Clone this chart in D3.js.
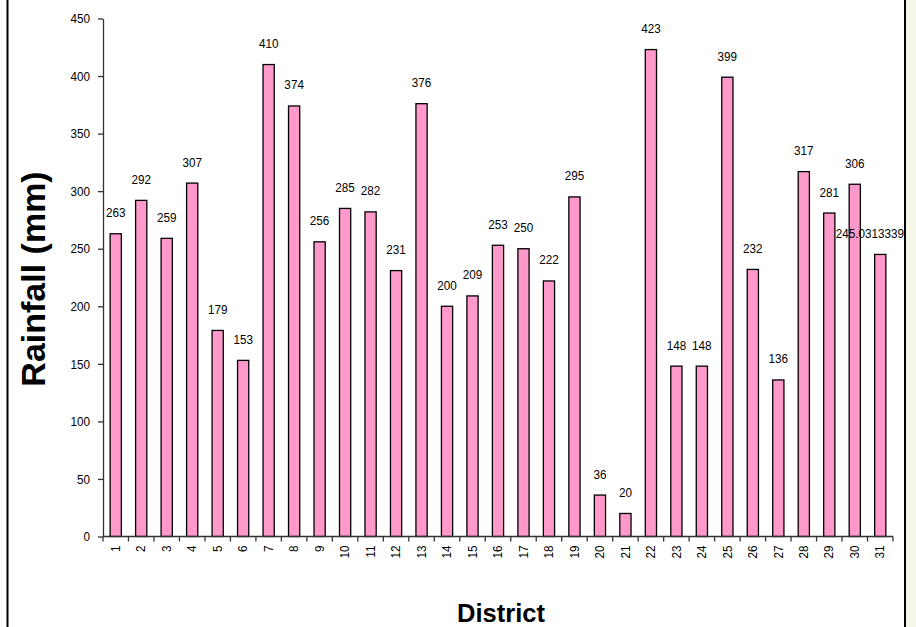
<!DOCTYPE html>
<html>
<head>
<meta charset="utf-8">
<script src="https://cdn.jsdelivr.net/npm/d3@7"></script>
<style>
  html, body { margin: 0; padding: 0; background: #ffffff; }
  svg { display: block; }
</style>
</head>
<body>
<svg id="chart" width="916" height="627"></svg>
<script>
// Monthly rainfall by district
const districts = d3.range(1, 32).map(String);
const rainfall = [263, 292, 259, 307, 179, 153, 410, 374, 256, 285, 282, 231, 376, 200, 209,
                  253, 250, 222, 295, 36, 20, 423, 148, 148, 399, 232, 136, 317, 281, 306, 245.0313339];
const yTicks = [0, 50, 100, 150, 200, 250, 300, 350, 400, 450];

const W = 916, H = 627;
const plot = { left: 103, right: 893, top: 18.5, bottom: 536.5 };
const sans = '"Liberation Sans", Arial, sans-serif';
const squeeze = 0.9;   // horizontal squeeze for the narrow label face

const svg = d3.select("#chart");

// Side strip and frame edges
svg.append("rect").attr("x", 905).attr("y", 0).attr("width", W - 905).attr("height", H)
  .attr("fill", "#f6f7e9");
svg.append("line").attr("x1", 7.5).attr("x2", 7.5).attr("y1", 0).attr("y2", H)
  .attr("stroke", "#000").attr("stroke-width", 2);
svg.append("line").attr("x1", 905).attr("x2", 905).attr("y1", 0).attr("y2", H)
  .attr("stroke", "#000").attr("stroke-width", 2);

const x = d3.scaleBand().domain(districts).range([plot.left, plot.right]).paddingInner(0.56).paddingOuter(0.28);
const xb = d3.scaleBand().domain(districts).range([plot.left, plot.right]);
const y = d3.scaleLinear().domain([0, 450]).range([plot.bottom, plot.top]);

// Bars
svg.append("g").selectAll("rect").data(rainfall).join("rect")
  .attr("x", (d, i) => x(districts[i]))
  .attr("width", x.bandwidth())
  .attr("y", d => y(d))
  .attr("height", d => y(0) - y(d))
  .attr("fill", "#ff99cc")
  .attr("stroke", "#000")
  .attr("stroke-width", 1.3);

// Value labels
svg.append("g").selectAll("text").data(rainfall).join("text")
  .text(d => String(d))
  .attr("font-family", sans)
  .attr("font-size", 13)
  .attr("fill", "#000")
  .attr("text-anchor", "middle")
  .each(function (d, i) {
    let cx = xb(districts[i]) + xb.bandwidth() / 2;
    const w = this.getComputedTextLength() * squeeze;
    const limit = 904;   // keep labels inside the plotting frame
    if (cx + w / 2 > limit) cx = limit - w / 2;
    d3.select(this).attr("transform", `translate(${cx},${y(d) - 16.5}) scale(${squeeze},1)`);
  });

// Y axis
const yAxis = svg.append("g").attr("transform", `translate(${plot.left},0)`)
  .call(d3.axisLeft(y).tickValues(yTicks).tickSize(5).tickPadding(8).tickSizeOuter(0));
yAxis.select(".domain").attr("stroke", "#333").attr("stroke-width", 1.3);
yAxis.selectAll(".tick line").attr("stroke", "#333").attr("stroke-width", 1.3);
yAxis.selectAll("text")
  .attr("font-family", sans).attr("font-size", 13).attr("fill", "#000")
  .attr("x", -13 / squeeze)
  .attr("transform", `scale(${squeeze},1)`);

// X axis: ticks at category boundaries
const xAxisG = svg.append("g").attr("transform", `translate(0,${plot.bottom})`);
xAxisG.append("line").attr("x1", plot.left).attr("x2", plot.right).attr("y1", 0).attr("y2", 0)
  .attr("stroke", "#333").attr("stroke-width", 1.3);
xAxisG.selectAll("line.tick").data(d3.range(districts.length + 1)).join("line")
  .attr("class", "tick")
  .attr("x1", i => plot.left + i * xb.step()).attr("x2", i => plot.left + i * xb.step())
  .attr("y1", 0).attr("y2", 5)
  .attr("stroke", "#333").attr("stroke-width", 1.3);
xAxisG.selectAll("text").data(districts).join("text")
  .text(d => d)
  .attr("font-family", sans)
  .attr("font-size", 13)
  .attr("fill", "#000")
  .attr("text-anchor", "end")
  .attr("dominant-baseline", "central")
  .attr("transform", d => `translate(${xb(d) + xb.bandwidth() / 2},9) rotate(-90) scale(${squeeze},1)`);

// Axis titles
svg.append("text")
  .text("Rainfall (mm)")
  .attr("font-family", sans).attr("font-weight", "bold").attr("font-size", 34)
  .attr("text-anchor", "middle")
  .attr("transform", `translate(45,279) rotate(-90)`);
svg.append("text")
  .text("District")
  .attr("font-family", sans).attr("font-weight", "bold").attr("font-size", 25.5)
  .attr("text-anchor", "middle")
  .attr("x", 501).attr("y", 622);
</script>
</body>
</html>
